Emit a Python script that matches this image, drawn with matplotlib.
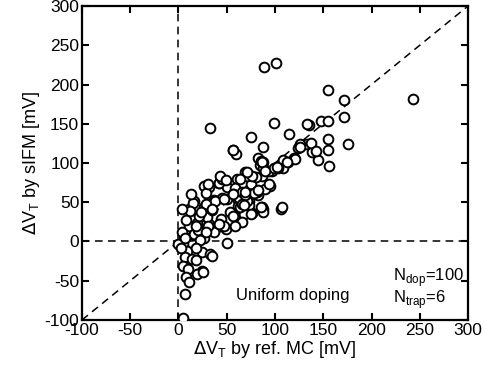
import matplotlib
matplotlib.use("Agg")
import matplotlib.pyplot as plt

# Data (mV)
ref_mc = [89, 101, 243, 33, 155, 171, 172, 176, 148, 155, 135, 114, 99, 75, 88, 155, 155, 156, 145, 138,
          132, 126, 120, 113, 108, 108, 103, 106, 88, 76, 97, 95, 88, 82,
          56, 60, 84, 94, 69, 72, 44, 26, 32, 42, 61, 75, 50, 59, 16, 37, 62, 73, 82, 45, 56, 26, 11, 87,
          15, 12, 11, 19, 32, 40, 49, 59, 68, 73, 62, 44, 30, 21, 6, 16, 26, 5, 50, 9, 24, 33, 7, 14, 5, 10,
          24, 19, 8, 11, 7, 5, 0,
          42, 45, 71, 87, 90, 88, 38, 50, 63, 47, 37, 16, 71, 80, 64, 25, 35, 18,
          137, 124, 142, 88, 99, 121, 126, 133, 57, 85, 80, 66, 81, 4, 3, 8, 13, 20, 28, 35, 22, 18, 53, 66, 78,
          31, 43, 49, 64, 76, 28, 47, 57, 69, 66, 4, 23, 35, 57, 68, 75, 18, 31, 42, 59, 28, 7,
          87, 112, 102, 71, 90, 94, 82, 69, 107, 85]
sifm = [222, 228, 182, 145, 193, 180, 158, 124, 153, 153, 149, 137, 151, 133, 120, 130, 116, 96, 104, 114,
        124, 124, 107, 101, 104, 93, 93, 41, 42, 36, 90, 71, 101, 107,
        116, 112, 98, 90, 88, 85, 81, 71, 70, 75, 79, 73, 69, 68, 51, 53, 53, 52, 59, 56, 61, 44, 42, 44,
        49, 39, 20, 23, 22, 18, 16, 33, 35, 46, 45, 29, 31, 33, 5, 8, 5, -3, -2, -12, -14, -16, -20, -22, -31, -35,
        -37, -41, -45, -52, -67, -97, -3,
        74, 80, 84, 84, 67, 37, 52, 54, 56, 20, 12, 10, 52, 63, 44, -39, -18, -24,
        125, 119, 115, 93, 93, 105, 120, 150, 117, 103, 82, 63, 63, 12, -8, 28, 60, 15, 62, 40, 2, -8, 38, 25, 62,
        73, 83, 78, 80, 84, 48, 54, 61, 59, 48, 42, 37, 42, 33, 46, 35, 20, 20, 22, 20, 12, 5,
        101, 101, 95, 88, 90, 73, 65, 63, 44, 44]

ticks = [-100, -50, 0, 50, 100, 150, 200, 250, 300]
tick_labels = [str(t) for t in ticks]

plt.rcParams['font.family'] = ['Liberation Sans', 'DejaVu Sans']

fig = plt.figure(figsize=(4.85, 3.76), dpi=100)
ax = fig.add_axes([0.169, 0.149, 0.796, 0.835])

ax.plot([-100, 300], [-100, 300], ls=(0, (5, 3.5)), color='black', lw=1.1, zorder=1)
ax.axvline(0, ls=(0, (5, 3.5)), color='black', lw=1.1, zorder=1)
ax.axhline(0, ls=(0, (5, 3.5)), color='black', lw=1.1, zorder=1)

ax.plot(ref_mc, sifm, 'o', ms=7, mfc='white', mec='black', mew=1.4, ls='none', zorder=3)

ax.set_xlim(-100, 300)
ax.set_ylim(-100, 300)
ax.set_xticks(ticks)
ax.set_xticklabels(tick_labels)
ax.set_yticks(ticks)
ax.set_yticklabels(tick_labels)
ax.tick_params(direction='in', length=5, width=1.5, top=True, right=True,
               labelsize=12.5, pad=2)
for s in ax.spines.values():
    s.set_linewidth(1.6)

ax.set_xlabel(r'$\Delta$V$_\mathregular{T}$ by ref. MC [mV]', fontsize=13, labelpad=1)
ax.set_ylabel(r'$\Delta$V$_\mathregular{T}$ by sIFM [mV]', fontsize=13, labelpad=2)

ax.text(60, -69, 'Uniform doping', fontsize=12, va='center', ha='left')
ax.text(222, -46, r'N$_\mathregular{dop}$=100', fontsize=12, va='center', ha='left')
ax.text(222, -74, r'N$_\mathregular{trap}$=6', fontsize=12, va='center', ha='left')

fig.savefig('out.png', dpi=100)
